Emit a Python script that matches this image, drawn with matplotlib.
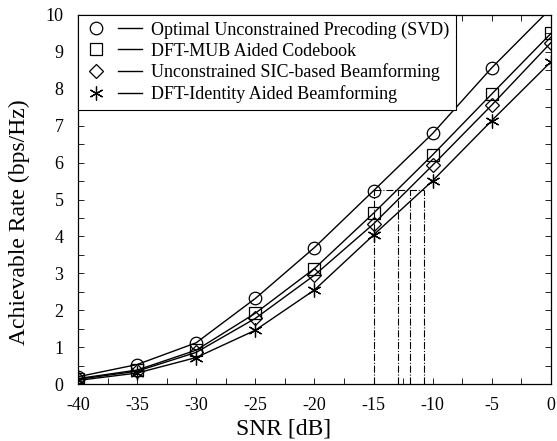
import matplotlib
matplotlib.use("Agg")
import matplotlib.pyplot as plt
from matplotlib.lines import Line2D
from matplotlib.legend_handler import HandlerTuple
from matplotlib.ticker import MultipleLocator

plt.rcParams['font.family'] = ['Liberation Serif', 'DejaVu Serif']
plt.rcParams['mathtext.fontset'] = 'stix'
plt.rcParams['axes.unicode_minus'] = False

snr = [-40, -35, -30, -25, -20, -15, -10, -5, 0]
svd = [0.20, 0.53, 1.12, 2.32, 3.70, 5.24, 6.79, 8.57, 10.18]
mub = [0.15, 0.38, 0.92, 1.92, 3.13, 4.63, 6.21, 7.86, 9.50]
sic = [0.13, 0.35, 0.86, 1.78, 2.95, 4.34, 5.93, 7.56, 9.25]
dft_id = [0.10, 0.30, 0.72, 1.46, 2.55, 4.04, 5.51, 7.14, 8.73]

labels = ["Optimal Unconstrained Precoding (SVD)",
          "DFT-MUB Aided Codebook",
          "Unconstrained SIC-based Beamforming",
          "DFT-Identity Aided Beamforming"]

ref_rate = 5.25
ref_snrs = [-15, -12.9, -11.9, -10.7]

fig = plt.figure(figsize=(5.57, 4.41), dpi=100)
ax = fig.add_axes([0.140, 0.129, 0.849, 0.837])

series = [svd, mub, sic, dft_id]
markers = ['o', 's', 'D', (6, 2, 0)]
msizes = [9, 8.5, 7, 10]
handles = []
for y, m, ms, lab in zip(series, markers, msizes, labels):
    ax.plot(snr, y, color='black', lw=1.0, marker=m, ms=ms,
            markerfacecolor='none', markeredgecolor='black', markeredgewidth=0.9)
    mh = Line2D([], [], ls='none', marker=m, ms=ms, markerfacecolor='none',
                markeredgecolor='black', markeredgewidth=0.9)
    lh = Line2D([], [], color='black', lw=1.0)
    handles.append((mh, lh))

# reference dash-dot lines
ax.plot([ref_snrs[0], ref_snrs[-1]], [ref_rate, ref_rate], color='black',
        lw=0.8, ls='-.')
for s in ref_snrs:
    ax.plot([s, s], [0, ref_rate], color='black', lw=0.8, ls='-.')

ax.set_xlim(-40, 0)
ax.set_ylim(0, 10)
ax.xaxis.set_major_locator(MultipleLocator(5))
ax.xaxis.set_minor_locator(MultipleLocator(2.5))
ax.yaxis.set_major_locator(MultipleLocator(1))
ax.yaxis.set_minor_locator(MultipleLocator(0.5))
ax.tick_params(which='both', direction='in', top=True, right=True,
               length=4, width=0.6, labelsize=13)
ax.tick_params(axis='x', pad=9)
ax.tick_params(axis='y', pad=10.5)
for sp in ax.spines.values():
    sp.set_linewidth(0.9)

ax.set_xlabel("SNR [dB]", fontsize=17)
ax.set_ylabel("Achievable Rate (bps/Hz)", fontsize=17)
ax.xaxis.set_label_coords(0.435, -0.092)
ax.yaxis.set_label_coords(-0.102, 0.44)

leg = ax.legend(handles=handles, labels=labels,
                handler_map={tuple: HandlerTuple(ndivide=None, pad=0.5)},
                loc='upper left', bbox_to_anchor=(0, 1), borderaxespad=0,
                fancybox=False, edgecolor='black', fontsize=13,
                handlelength=3.2, handletextpad=0.5, labelspacing=0.22,
                borderpad=0.35, framealpha=1)
leg.get_frame().set_linewidth(0.8)

fig.savefig("out.png", dpi=100)
